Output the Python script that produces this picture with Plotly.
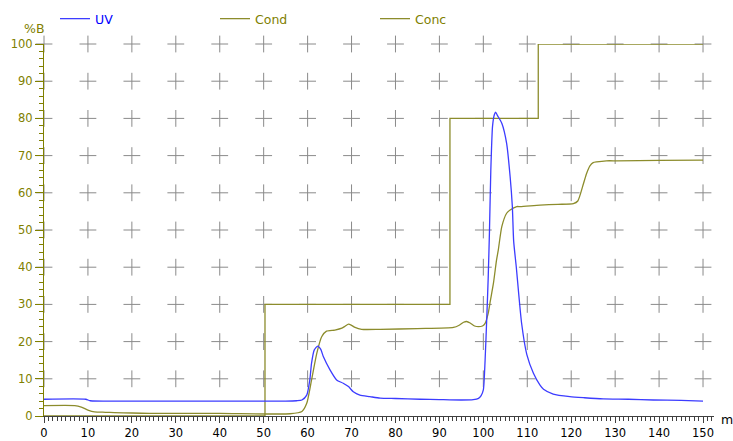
import plotly.graph_objects as go

# ---------------- data ----------------
uv_x = [0, 9.5, 10.5, 20, 40, 55, 57.5, 58.7, 59.8, 60.5, 60.9, 61.5, 62.3, 63.0, 63.6,
        65.1, 66.6, 68.1, 69.3, 70.4, 71.9, 74.2, 76.5, 80, 85.6, 90, 95, 97.7, 98.9,
        99.5, 100.0, 100.4, 100.8, 101.1, 101.4, 101.7, 102.1, 102.5, 102.8, 103.2,
        104.2, 105.3, 106.1, 106.6, 106.9, 107.5, 108.7, 109.9, 111.4, 112.9, 113.7,
        115.9, 119.7, 123, 127.3, 133, 138.7, 145, 150]
uv_y = [4.5, 4.5, 4.1, 4.0, 4.0, 4.0, 4.1, 4.3, 5.6, 9.7, 14.2, 17.7, 18.8, 17.9, 15.9,
        12.4, 9.7, 8.8, 7.9, 6.5, 5.6, 5.2, 4.8, 4.7, 4.5, 4.4, 4.3, 4.4, 4.75,
        5.5, 7.0, 15.0, 27.0, 37.0, 50.0, 66.0, 78.0, 81.0, 81.7, 80.8,
        78.7, 73.3, 64.3, 56.3, 47.0, 40.0, 25.0, 16.5, 11.5, 8.3, 7.2,
        5.9, 5.2, 4.9, 4.6, 4.5, 4.3, 4.2, 4.0]

cond_x = [0, 7, 8.5, 10, 11.5, 14, 16, 20, 24, 40, 56, 58.7, 59.8, 60.9, 62.1, 63.2,
          64.3, 66.2, 67.8, 68.6, 69.3, 70.1, 70.8, 72.3, 76.5, 85, 93.2, 94.5, 95.5,
          96.2, 97, 98, 98.9, 99.8, 100.4, 101.1, 101.6, 102.3, 103.0, 103.4, 104.2,
          105.3, 106.1, 107.6, 108.4, 112.9, 117, 120.5, 121.5, 122.8, 123.5, 124.3,
          125.0, 125.8, 128, 130.4, 140, 150]
cond_y = [2.8, 2.8, 2.4, 1.6, 1.1, 1.0, 0.9, 0.8, 0.7, 0.7, 0.6, 1.2, 3.4, 9.7, 16.9, 21.3,
          22.8, 23.1, 23.6, 24.2, 24.7, 24.3, 23.8, 23.3, 23.3, 23.5, 23.8, 24.4, 25.2,
          25.4, 25.0, 24.2, 24.0, 24.2, 24.9, 27.6, 31.0, 35.7, 41.9, 44.6, 50.9,
          54.5, 55.4, 56.3, 56.3, 56.7, 56.9, 57.1, 57.8, 62.5, 65.2, 67.3,
          68.1, 68.3, 68.6, 68.6, 68.7, 68.8]

conc_x = [0, 50.3, 50.3, 92.4, 92.4, 112.5, 112.5, 150]
conc_y = [0, 0, 30, 30, 80, 80, 100, 100]

x_major = list(range(0, 151, 10))
y_major = list(range(10, 101, 10))

# ---------------- style ----------------
OLIVE = "#808000"
LINE_OLIVE = "#8c8c2c"
BLUE = "#3c3cff"
FONT = "DejaVu Sans, Arial, sans-serif"

fig = go.Figure()

# grid "plus" markers at major intersections
gx, gy = [], []
for yv in y_major:
    for xv in x_major:
        gx.append(xv)
        gy.append(yv)
fig.add_trace(go.Scatter(
    x=gx, y=gy, mode="markers", showlegend=False, hoverinfo="skip", cliponaxis=False,
    marker=dict(symbol="cross-thin", size=12, line=dict(width=1, color="#8a8a8a"))))

fig.add_trace(go.Scatter(x=conc_x, y=conc_y, mode="lines", name="Conc", legend="legend3",
                         line=dict(color=LINE_OLIVE, width=1.3)))
fig.add_trace(go.Scatter(x=cond_x, y=cond_y, mode="lines", name="Cond", legend="legend2",
                         line=dict(color=LINE_OLIVE, width=1.3, shape="spline", smoothing=0.6)))
fig.add_trace(go.Scatter(x=uv_x, y=uv_y, mode="lines", name="UV", legend="legend",
                         line=dict(color=BLUE, width=1.3, shape="spline", smoothing=0.6)))

W, H = 733, 441
L, T, PW, PH = 44, 44, 670, 372

def lx(px):
    return (px - L) / PW

def ly(py):
    return 1 + (T - py) / PH

def cx(px):
    return px / W

def cy(py):
    return 1 - py / H

leg_common = dict(orientation="h", yanchor="middle", xanchor="left",
                  xref="container", yref="container",
                  bgcolor="rgba(0,0,0,0)", borderwidth=0)
fig.update_layout(
    width=W, height=H,
    margin=dict(l=L, r=W - L - PW, t=T, b=H - T - PH, autoexpand=False),
    paper_bgcolor="white", plot_bgcolor="white",
    font=dict(family=FONT, size=12, color="black"),
    legend=dict(x=cx(55), y=cy(19), font=dict(color="#0000ff", size=12.5, family=FONT), **leg_common),
    legend2=dict(x=cx(215), y=cy(19), font=dict(color=OLIVE, size=12.5, family=FONT), **leg_common),
    legend3=dict(x=cx(375), y=cy(19), font=dict(color=OLIVE, size=12.5, family=FONT), **leg_common),
    xaxis=dict(range=[0, 152.5], showgrid=False, zeroline=False, showline=True,
               linecolor="#404040", linewidth=1, ticks="outside", ticklen=6, tickwidth=1,
               tickcolor="#404040", tick0=0, dtick=10,
               tickfont=dict(family=FONT, size=11.5, color="black"),
               minor=dict(ticks="outside", ticklen=4, dtick=1, tick0=0, tickcolor="#404040", showgrid=False)),
    yaxis=dict(range=[0, 100], showgrid=False, zeroline=False, showline=True,
               linecolor=OLIVE, linewidth=1, ticks="outside", ticklen=8, tickwidth=1,
               tickcolor=OLIVE, tick0=0, dtick=10,
               tickfont=dict(family=FONT, size=11.5, color=OLIVE),
               minor=dict(ticks="outside", ticklen=4, dtick=2, tick0=0, tickcolor=OLIVE, showgrid=False)),
    annotations=[
        dict(text="%B", xref="paper", yref="paper", x=lx(34), y=ly(28), showarrow=False,
             xanchor="center", yanchor="middle", font=dict(family=FONT, size=12.5, color=OLIVE)),
        dict(text="m", xref="paper", yref="paper", x=lx(727), y=ly(419), showarrow=False,
             xanchor="center", yanchor="middle", font=dict(family=FONT, size=12.5, color="black")),
    ],
)

fig.write_html("out.html")
